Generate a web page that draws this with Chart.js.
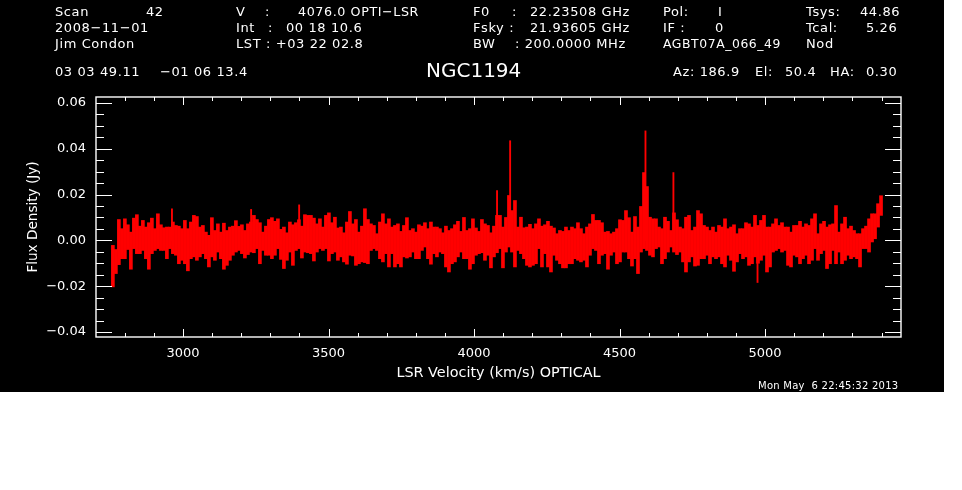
<!DOCTYPE html>
<html>
<head>
<meta charset="utf-8">
<title>NGC1194</title>
<script src="https://cdn.jsdelivr.net/npm/chart.js@4"></script>
<style>
  html, body { margin: 0; padding: 0; background: #fff; }
  #wrap { position: absolute; left: 0; top: 0; width: 944px; height: 392px; background: #000; }
</style>
</head>
<body>
<div id="wrap"><canvas id="spectrum" width="944" height="392"></canvas></div>
<script>
// Spectrum channels: upper and lower edge of the trace per channel
const firstVelocity = 2759;
const channelStep = 10.31;

const fluxUpper = [
  -.0022,-.0040,.0091,.0051,.0094,.0068,.0036,.0097,.0112,.0062,.0087,.0058,.0077,.0097,.0051,.0116,.0068,.0055,.0058,.0058,.0080,.0065,.0062,.0051,.0087,.0051,.0080,.0109,.0104,.0058,.0065,.0036,.0022,.0099,.0043,.0072,.0036,.0075,.0043,.0058,.0062,.0086,.0061,
  .0068,.0043,.0072,.0080,.0109,.0091,.0077,.0036,.0062,.0091,.0099,.0083,.0094,.0048,.0058,.0033,.0080,.0068,.0077,.0090,.0062,.0112,.0109,.0109,.0097,.0072,.0094,.0058,.0109,.0120,.0077,.0101,.0054,.0058,.0033,.0080,.0126,.0072,.0091,.0036,.0062,.0138,.0091,.0072,.0065,
  .0029,.0080,.0116,.0072,.0094,.0058,.0065,.0072,.0039,.0065,.0099,.0043,.0051,.0036,.0068,.0062,.0077,.0051,.0080,.0058,.0058,.0051,.0033,.0062,.0043,.0051,.0068,.0083,.0039,.0100,.0043,.0051,.0094,.0054,.0039,.0091,.0072,.0065,.0033,.0062,.0109,.0109,.0058,.0100,.0196,
  .0130,.0174,.0058,.0101,.0055,.0058,.0070,.0051,.0072,.0094,.0062,.0068,.0083,.0062,.0054,.0029,.0043,.0039,.0058,.0043,.0058,.0051,.0077,.0051,.0029,.0058,.0072,.0113,.0087,.0087,.0077,.0036,.0039,.0029,.0036,.0051,.0090,.0087,.0130,.0099,.0036,.0104,.0058,.0148,.0296,
  .0235,.0101,.0094,.0094,.0058,.0051,.0101,.0083,.0043,.0120,.0090,.0058,.0051,.0101,.0109,.0043,.0058,.0130,.0116,.0065,.0058,.0043,.0058,.0036,.0065,.0058,.0094,.0051,.0058,.0068,.0029,.0051,.0051,.0077,.0072,.0058,.0109,.0065,.0087,.0109,.0058,.0058,.0072,.0094,.0065,
  .0077,.0058,.0058,.0036,.0065,.0065,.0083,.0058,.0072,.0065,.0094,.0116,.0029,.0072,.0083,.0058,.0068,.0072,.0152,.0036,.0072,.0101,.0051,.0062,.0043,.0029,.0029,.0051,.0062,.0094,.0116,.0116,.0160,.0195
];

const fluxLower = [
  -.0203,-.0145,-.0106,-.0080,-.0080,-.0040,-.0126,-.0036,-.0058,-.0058,-.0044,-.0080,-.0126,-.0058,-.0044,-.0036,-.0044,-.0044,-.0080,-.0036,-.0058,-.0065,-.0102,-.0087,-.0102,-.0133,-.0080,-.0072,-.0087,-.0072,-.0058,-.0080,-.0116,-.0072,-.0087,-.0051,-.0080,-.0126,-.0109,-.0087,-.0065,-.0051,-.0044,
  -.0058,-.0077,-.0062,-.0051,-.0054,-.0036,-.0102,-.0044,-.0065,-.0065,-.0080,-.0065,-.0036,-.0083,-.0123,-.0087,-.0051,-.0109,-.0044,-.0036,-.0077,-.0051,-.0054,-.0058,-.0090,-.0051,-.0036,-.0044,-.0036,-.0090,-.0058,-.0051,-.0087,-.0072,-.0094,-.0104,-.0065,-.0068,-.0109,-.0102,-.0094,-.0097,-.0102,-.0044,-.0036,
  -.0044,-.0080,-.0094,-.0058,-.0116,-.0058,-.0116,-.0102,-.0116,-.0072,-.0077,-.0072,-.0051,-.0080,-.0080,-.0044,-.0029,-.0080,-.0104,-.0058,-.0072,-.0051,-.0058,-.0116,-.0138,-.0102,-.0094,-.0072,-.0051,-.0080,-.0080,-.0126,-.0102,-.0065,-.0058,-.0054,-.0087,-.0065,-.0120,-.0072,-.0054,-.0036,-.0120,-.0051,-.0029,
  -.0051,-.0116,-.0044,-.0058,-.0080,-.0109,-.0116,-.0109,-.0102,-.0036,-.0116,-.0058,-.0116,-.0138,-.0065,-.0087,-.0102,-.0120,-.0120,-.0102,-.0102,-.0080,-.0087,-.0094,-.0087,-.0116,-.0065,-.0036,-.0044,-.0102,-.0065,-.0058,-.0126,-.0065,-.0051,-.0102,-.0094,-.0051,-.0051,-.0080,-.0112,-.0080,-.0145,-.0051,-.0036,
  -.0044,-.0065,-.0072,-.0036,-.0029,-.0102,-.0080,-.0051,-.0029,-.0051,-.0062,-.0051,-.0094,-.0138,-.0094,-.0072,-.0112,-.0109,-.0080,-.0080,-.0065,-.0102,-.0072,-.0080,-.0072,-.0102,-.0116,-.0065,-.0087,-.0135,-.0094,-.0058,-.0080,-.0072,-.0109,-.0102,-.0072,-.0100,-.0087,-.0065,-.0138,-.0116,-.0051,-.0044,-.0036,
  -.0051,-.0044,-.0109,-.0116,-.0065,-.0072,-.0102,-.0080,-.0065,-.0102,-.0087,-.0036,-.0087,-.0058,-.0044,-.0123,-.0102,-.0044,-.0102,-.0051,-.0102,-.0087,-.0065,-.0080,-.0072,-.0080,-.0116,-.0036,-.0036,-.0051,-.0007,.0007,.0058,.0109
];

// Single-channel peaks that stand clear of the band
const peakVelocity = [2962, 3234, 3399, 4079, 4124, 4589, 4685, 4974];
const peakFlux = [.0138, .0135, .0155, .0217, .0435, .0478, .0296, -.0184];

// Axis ticks
const xTickValues = [3000, 3500, 4000, 4500, 5000];
const xTickLabels = ["3000", "3500", "4000", "4500", "5000"];
const xMinorValues = [2800, 2900, 3100, 3200, 3300, 3400, 3600, 3700, 3800, 3900, 4100, 4200, 4300, 4400, 4600, 4700, 4800, 4900, 5100, 5200, 5300, 5400];
const yTickValues = [-0.04, -0.02, 0, 0.02, 0.04, 0.06];
const yTickLabels = ["\u22120.04", "\u22120.02", "0.00", "0.02", "0.04", "0.06"];
const yMinorValues = [-0.035, -0.03, -0.025, -0.015, -0.01, -0.005, 0.005, 0.01, 0.015, 0.025, 0.03, 0.035, 0.045, 0.05, 0.055];

// Header block around the plot: [text, x, y, max width]
const headerTexts = [
  ["Scan", 55, 13], ["42", 146, 13], ["2008\u221211\u221201", 55, 29], ["Jim Condon", 55, 45],
  ["03 03 49.11", 55, 73], ["\u221201 06 13.4", 160, 73],
  ["V", 236, 13], [":", 265, 13], ["4076.0 OPTI\u2212LSR", 298, 13, 121],
  ["Int", 236, 29], [":", 268, 29], ["00 18 10.6", 286, 29],
  ["LST : +03 22 02.8", 236, 45],
  ["F0", 473, 13], [":", 512, 13], ["22.23508 GHz", 530, 13],
  ["Fsky :", 473, 29], ["21.93605 GHz", 530, 29],
  ["BW", 473, 45], [": 200.0000 MHz", 515, 45, 111],
  ["Pol:", 663, 13], ["I", 718, 13], ["IF :", 663, 29], ["0", 715, 29], ["AGBT07A_066_49", 663, 45, 118],
  ["Tsys:", 806, 13], ["44.86", 860, 13], ["Tcal:", 806, 29], ["5.26", 866, 29], ["Nod", 806, 45],
  ["Az: 186.9", 673, 73], ["El:", 755, 73], ["50.4", 785, 73], ["HA:", 830, 73], ["0.30", 866, 73]
];

const traceColor = "#ff0000";
const inkColor = "#ffffff";

const bandBars = fluxUpper.map((hi, i) => ({ x: firstVelocity + i * channelStep, y: [fluxLower[i], hi] }));
const peakBars = peakVelocity.map((v, i) => ({ x: v, y: [0, peakFlux[i]] }));

const idlFrame = {
  id: "idlFrame",
  afterDatasetsDraw(chart) {
    const { ctx, chartArea: a, scales: { x, y } } = chart;
    ctx.save();
    ctx.strokeStyle = inkColor;
    ctx.lineWidth = 1.4;
    ctx.strokeRect(a.left, a.top, a.right - a.left, a.bottom - a.top);

    // Ticks point inward on all four sides
    const tick = (x0, y0, x1, y1) => {
      ctx.beginPath();
      ctx.moveTo(x0, y0);
      ctx.lineTo(x1, y1);
      ctx.stroke();
    };
    ctx.lineWidth = 1;
    xTickValues.forEach(v => {
      const px = Math.round(x.getPixelForValue(v)) + 0.5;
      tick(px, a.bottom, px, a.bottom - 8);
      tick(px, a.top, px, a.top + 8);
    });
    xMinorValues.forEach(v => {
      const px = Math.round(x.getPixelForValue(v)) + 0.5;
      tick(px, a.bottom, px, a.bottom - 4);
      tick(px, a.top, px, a.top + 4);
    });
    yTickValues.forEach(v => {
      const py = Math.round(y.getPixelForValue(v)) + 0.5;
      tick(a.left, py, a.left + 16, py);
      tick(a.right, py, a.right - 16, py);
    });
    yMinorValues.forEach(v => {
      const py = Math.round(y.getPixelForValue(v)) + 0.5;
      tick(a.left, py, a.left + 8, py);
      tick(a.right, py, a.right - 8, py);
    });

    // Header text
    ctx.fillStyle = inkColor;
    ctx.textBaseline = "middle";
    ctx.textAlign = "left";
    ctx.font = "13px 'DejaVu Sans'";
    ctx.letterSpacing = "0.6px";
    headerTexts.forEach(t => ctx.fillText(t[0], t[1], t[2], t[3]));
    ctx.letterSpacing = "0px";
    ctx.font = "20px 'DejaVu Sans'";
    ctx.fillText("NGC1194", 426, 72);
    ctx.letterSpacing = "0.25px";
    ctx.font = "10px 'DejaVu Sans'";
    ctx.fillText("Mon May  6 22:45:32 2013", 758, 386);
    ctx.restore();
  }
};

const tickFont = { family: "'DejaVu Sans'", size: 13 };

new Chart(document.getElementById("spectrum"), {
  type: "bar",
  data: {
    datasets: [
      { data: bandBars, backgroundColor: traceColor, barThickness: 3, grouped: false },
      { data: peakBars, backgroundColor: traceColor, barThickness: 1.2, grouped: false }
    ]
  },
  plugins: [idlFrame],
  options: {
    responsive: false,
    animation: false,
    devicePixelRatio: 1,
    layout: { padding: { top: 97, right: 43, left: 0, bottom: 0 } },
    plugins: { legend: { display: false }, tooltip: { enabled: false } },
    scales: {
      x: {
        type: "linear",
        offset: false,
        min: 2701,
        max: 5467,
        grid: { display: false, drawTicks: false },
        border: { display: false },
        afterBuildTicks: axis => { axis.ticks = xTickValues.map(v => ({ value: v })); },
        afterFit: axis => { axis.height = 55; },
        ticks: {
          color: inkColor,
          font: tickFont,
          padding: 9,
          maxRotation: 0,
          callback: (v, i) => xTickLabels[i]
        },
        title: {
          display: true,
          text: "LSR Velocity (km/s) OPTICAL",
          color: inkColor,
          font: { family: "'DejaVu Sans'", size: 14.4 },
          padding: { top: 0, bottom: 10 }
        }
      },
      y: {
        min: -0.0422,
        max: 0.0626,
        grid: { display: false, drawTicks: false },
        border: { display: false },
        afterBuildTicks: axis => { axis.ticks = yTickValues.map(v => ({ value: v })); },
        afterFit: axis => { axis.width = 96; },
        ticks: {
          color: inkColor,
          font: tickFont,
          padding: 10,
          callback: (v, i) => yTickLabels[i]
        },
        title: {
          display: true,
          text: "Flux Density (Jy)",
          color: inkColor,
          font: { family: "'DejaVu Sans'", size: 13.6 },
          padding: { top: 25, bottom: 0 }
        }
      }
    }
  }
});
</script>
</body>
</html>
